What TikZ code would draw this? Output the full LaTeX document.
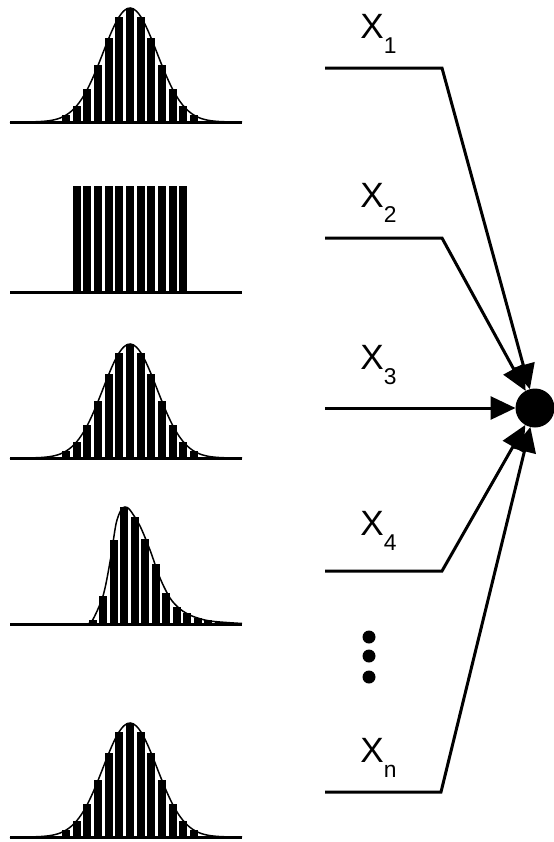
\documentclass[tikz,border=0pt]{standalone}
\usepackage{fontspec}
\setmainfont{Liberation Sans}
\usepackage{tikz}
\usetikzlibrary{arrows.meta}
\tikzset{
    sumnode/.style={circle, fill=black, inner sep=0pt, outer sep=0pt, minimum size=7.8mm},
    vdot/.style={circle, fill=black, inner sep=0pt, minimum size=2.6mm},
    wire/.style={line width=0.6mm, -{Triangle[length=5mm, width=4.6mm]}},
    axisline/.style={line width=0.6mm},
    curve/.style={line width=0.3mm},
    inlabel/.style={anchor=base west, inner sep=0pt, font=\fontsize{20}{24}\selectfont}
}
\newcommand{\inlab}[1]{X\raisebox{-0.43em}{\fontsize{13}{13}\selectfont #1}}
\newcommand{\bellcurve}{%
    \foreach \k in {-6,...,6}{
        \pgfmathsetmacro\bx{130+10.65*\k}
        \pgfmathsetmacro\bh{114*exp(-(\bx-130)^2/1458)}
        \fill ({\bx-4},0) rectangle ({\bx+4},-\bh);
    }
    \draw[curve] plot[domain=10:242, samples=80, smooth] (\x, {-114*exp(-(\x-130)^2/1458)});
    \draw[axisline] (10,0) -- (242,0);
}

\begin{document}
\begin{tikzpicture}[x=0.2mm, y=-0.2mm]
    \useasboundingbox (0,0) rectangle (554,842);

    % ---------- Left: distributions ----------
    \begin{scope}[shift={(0,122)}]
        \bellcurve
    \end{scope}

    \begin{scope}[shift={(0,292)}]
        \foreach \k in {-5,...,5}{
            \pgfmathsetmacro\bx{130+10.65*\k}
            \fill ({\bx-4},0) rectangle ({\bx+4},-106);
        }
        \draw[axisline] (10,0) -- (242,0);
    \end{scope}

    \begin{scope}[shift={(0,458)}]
        \bellcurve
    \end{scope}

    \begin{scope}[shift={(0,624)}]
        \foreach \bx/\bh in {92.5/4, 103/28, 113.5/84, 124/117, 134.5/107, 145/85,
                155.5/60, 166/31, 176.5/17, 187/11, 197.5/6, 208/4, 218.5/2}{
            \fill ({\bx-4},0) rectangle ({\bx+4},-\bh);
        }
        \draw[curve] plot[smooth] coordinates {(85,0) (92,-3) (103,-28) (110,-62)
            (116,-100) (121,-114) (125,-117) (130,-114) (140,-98) (150,-74)
            (160,-46) (170,-26) (180,-15) (192,-8) (210,-3) (242,-0.5)};
        \draw[axisline] (10,0) -- (242,0);
    \end{scope}

    \begin{scope}[shift={(0,837)}]
        \bellcurve
    \end{scope}

    % ---------- Right: inputs ----------
    \node[sumnode] (sum) at (535,408) {};

    \coordinate (in1) at (325,68);
    \coordinate (k1) at (442,68);
    \coordinate (in2) at (325,238);
    \coordinate (k2) at (442,238);
    \coordinate (in3) at (325,408);
    \coordinate (in4) at (325,571);
    \coordinate (k4) at (442,571);
    \coordinate (in5) at (325,792);
    \coordinate (k5) at (441,792);

    \draw[wire] (in1) -- (k1) -- (sum);
    \draw[wire] (in2) -- (k2) -- (sum);
    \draw[wire] (in3) -- (sum);
    \draw[wire] (in4) -- (k4) -- (sum);
    \draw[wire] (in5) -- (k5) -- (sum);

    \node[inlabel] (lab1) at (360,38) {\inlab{1}};
    \node[inlabel] (lab2) at (360,207) {\inlab{2}};
    \node[inlabel] (lab3) at (360,369) {\inlab{3}};
    \node[inlabel] (lab4) at (360,535) {\inlab{4}};
    \node[inlabel] (lab5) at (360,762) {\inlab{n}};

    \node[vdot] (vd1) at (369,637) {};
    \node[vdot] (vd2) at (369,656) {};
    \node[vdot] (vd3) at (369,677) {};
\end{tikzpicture}
\end{document}
